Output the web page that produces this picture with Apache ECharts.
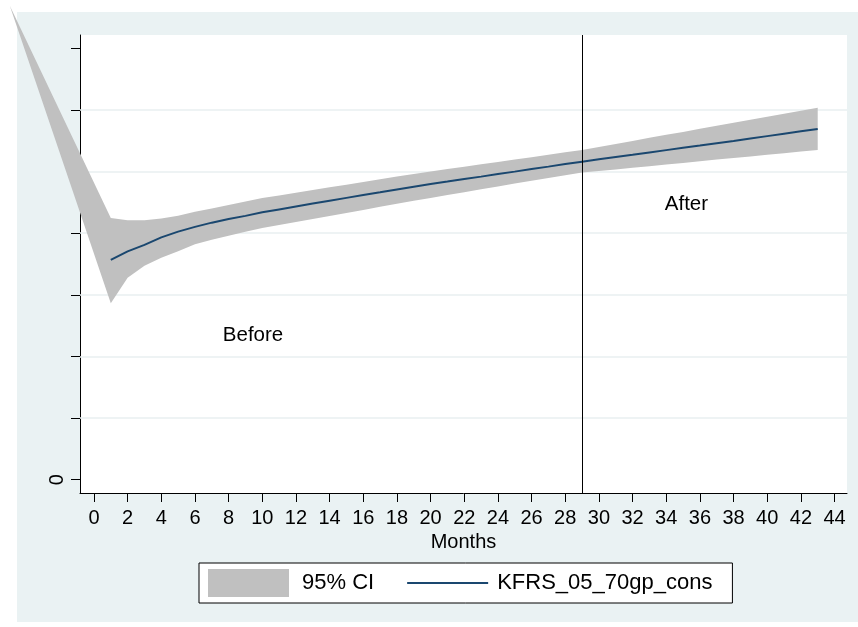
<!DOCTYPE html>
<html><head><meta charset="utf-8">
<script src="https://cdn.jsdelivr.net/npm/echarts@6/dist/echarts.min.js"></script>
<style>html,body{margin:0;padding:0;background:#fff}#c{width:858px;height:627px}</style>
</head><body><div id="c"></div>
<script>
// ---- data ----
const bandMonths = [-5,1,2,3,4,5,6,7,8,9,10,11,12,13,14,15,16,17,18,19,20,21,22,23,24,25,26,27,28,29,30,31,32,33,34,35,36,37,38,39,40,41,42,43];
const bandUpper = [7.69,4.248,4.208,4.208,4.240,4.281,4.346,4.402,4.459,4.516,4.569,4.613,4.657,4.701,4.745,4.788,4.832,4.876,4.920,4.962,5.001,5.040,5.079,5.117,5.156,5.195,5.234,5.273,5.312,5.351,5.400,5.448,5.497,5.547,5.596,5.644,5.693,5.743,5.792,5.841,5.889,5.940,5.988,6.037];
const bandLower = [7.69,2.865,3.275,3.470,3.600,3.705,3.819,3.892,3.960,4.025,4.083,4.132,4.180,4.231,4.279,4.329,4.378,4.428,4.479,4.527,4.573,4.618,4.665,4.712,4.759,4.806,4.850,4.895,4.939,4.983,5.009,5.035,5.062,5.088,5.114,5.140,5.166,5.194,5.220,5.246,5.271,5.299,5.325,5.351];
const lineMonths = [1,2,3,4,5,6,7,8,9,10,11,12,13,14,15,16,17,18,19,20,21,22,23,24,25,26,27,28,29,30,31,32,33,34,35,36,37,38,39,40,41,42,43];
const lineValues = [3.567,3.705,3.811,3.932,4.025,4.102,4.171,4.229,4.281,4.339,4.386,4.433,4.480,4.527,4.573,4.618,4.663,4.709,4.754,4.797,4.837,4.878,4.918,4.959,4.999,5.040,5.080,5.121,5.161,5.199,5.236,5.273,5.311,5.348,5.385,5.422,5.460,5.497,5.536,5.575,5.614,5.653,5.692];
const xTicks = [0,2,4,6,8,10,12,14,16,18,20,22,24,26,28,30,32,34,36,38,40,42,44];
const yTicks = [0,1,2,3,4,5,6,7];
const yLabels = [0];
const gridValues = [1,2,3,4,5,6];
const breakMonth = 29;
const annotText = ['Before','After'];
const annotX = [9.45, 35.2];
const annotY = [2.35, 4.475];
const ciName = '95% CI';
const lineName = 'KFRS_05_70gp_cons';
const xTitle = 'Months';

// ---- chart ----
const FONT = '"Liberation Sans", Arial, Helvetica, sans-serif';
const chart = echarts.init(document.getElementById('c'), null, {renderer:'canvas'});
const option = {
  animation: false,
  backgroundColor: '#ffffff',
  textStyle: {fontFamily: FONT},
  graphic: [{type:'rect', z:-10, shape:{x:17, y:12, width:841, height:610}, style:{fill:'#eaf2f3'}}],
  grid: {left:80, top:35, width:767, height:458, show:true, backgroundColor:'#ffffff', borderWidth:0},
  xAxis: {
    type:'value', min:-0.83, max:44.74,
    axisLine:{show:true, onZero:false, lineStyle:{color:'#000', width:1}},
    axisTick:{show:true, customValues:xTicks, length:9, lineStyle:{color:'#000', width:1}},
    axisLabel:{customValues:xTicks, fontSize:20, color:'#000', margin:15, fontFamily:FONT},
    splitLine:{show:false},
    name:xTitle, nameLocation:'middle', nameGap:38,
    nameTextStyle:{fontSize:20, color:'#000', fontFamily:FONT}
  },
  yAxis: {
    type:'value', min:-0.216, max:7.216,
    axisLine:{show:true, onZero:false, lineStyle:{color:'#000', width:1}},
    axisTick:{show:true, customValues:yTicks, length:9, lineStyle:{color:'#000', width:1}},
    axisLabel:{customValues:yLabels, rotate:90, fontSize:20, color:'#000', margin:13, fontFamily:FONT},
    splitLine:{show:false}
  },
  legend: {
    left:199, top:563, orient:'horizontal',
    padding:[6,20,6,9], itemGap:32, itemWidth:81, itemHeight:28,
    borderColor:'#000', borderWidth:1, backgroundColor:'#ffffff',
    selectedMode:false,
    textStyle:{fontSize:22, color:'#000', fontFamily:FONT},
    data:[
      {name:ciName, icon:'rect', itemStyle:{color:'#c0c0c0'}, textStyle:{padding:[0,0,0,8]}},
      {name:lineName, itemStyle:{color:'rgba(0,0,0,0)', borderWidth:0}, textStyle:{padding:[0,0,0,4]}}
    ]
  },
  series: [
    {
      name:'grid', type:'line', symbol:'none', silent:true,
      lineStyle:{opacity:0, width:0},
      data:[[0,0]],
      markLine:{
        silent:true, symbol:'none', label:{show:false}, z:1,
        lineStyle:{color:'#e8eff1', width:1.5, type:'solid'},
        data: gridValues.map(v=>({yAxis:v}))
      },
      z:1
    },
    {
      name:ciName, type:'custom', clip:false, silent:true,
      itemStyle:{color:'#c0c0c0'},
      data:[[bandMonths[0], bandUpper[0]]],
      encode:{x:0, y:1},
      renderItem:(params, api)=>{
        const pts = [];
        for (let i=0;i<bandMonths.length;i++) pts.push(api.coord([bandMonths[i], bandUpper[i]]));
        for (let i=bandMonths.length-1;i>=0;i--) pts.push(api.coord([bandMonths[i], bandLower[i]]));
        return {type:'polygon', shape:{points:pts}, style:{fill:'#c0c0c0'}};
      },
      z:2
    },
    {
      name:lineName, type:'line', symbol:'none', silent:true,
      lineStyle:{color:'#1a476f', width:2},
      itemStyle:{color:'#1a476f'},
      data: lineMonths.map((m,i)=>[m, lineValues[i]]),
      markLine:{
        silent:true, symbol:'none', label:{show:false},
        lineStyle:{color:'#000', width:1, type:'solid'},
        data:[{xAxis:breakMonth}]
      },
      z:3
    },
    {
      name:'annot', type:'scatter', symbolSize:0, silent:true,
      itemStyle:{color:'#000', opacity:1},
      data: annotText.map((t,i)=>({name:t, value:[annotX[i], annotY[i]]})),
      label:{show:true, position:'inside', formatter:p=>p.name, fontSize:20.5, color:'#000', opacity:1, textBorderWidth:0, fontFamily:FONT},
      z:4
    }
  ]
};
chart.setOption(option);
</script>
</body></html>
